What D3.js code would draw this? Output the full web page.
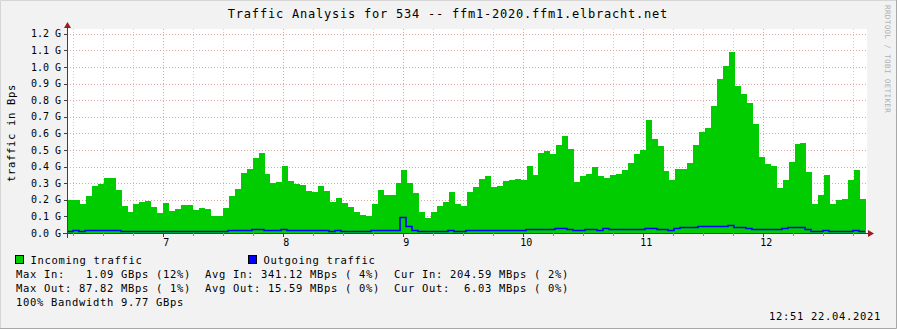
<!DOCTYPE html>
<html>
<head>
<meta charset="utf-8">
<script src="https://cdn.jsdelivr.net/npm/d3@7"></script>
<style>
  body { margin: 0; background: #f2f2f2; }
  svg { display: block; font-family: "DejaVu Sans Mono", monospace; }
  text { white-space: pre; }
</style>
</head>
<body>
<svg id="chart" width="897" height="329"></svg>
<script>
const title = "Traffic Analysis for 534 -- ffm1-2020.ffm1.elbracht.net";
const yTitle = "traffic in Bps";
const watermark = "RRDTOOL / TOBI OETIKER";
const stamp = "12:51 22.04.2021";

// sample times: first (partly hidden) sample and spacing in seconds
const firstSample = new Date(2021, 3, 22, 6, 9, 22);
const stepSeconds = 178.66;
const viewStart = new Date(2021, 3, 22, 6, 11, 51);
const viewEnd = new Date(2021, 3, 22, 12, 51, 51);

// traffic in G (Bps), one value per sample
const incoming = [
  0.214, 0.198, 0.198, 0.174, 0.222, 0.282, 0.294, 0.33, 0.33, 0.258,
  0.162, 0.126, 0.174, 0.186, 0.192, 0.156, 0.12, 0.18, 0.132, 0.144,
  0.168, 0.168, 0.138, 0.15, 0.144, 0.102, 0.102, 0.15, 0.222, 0.264,
  0.36, 0.384, 0.45, 0.48, 0.354, 0.30, 0.306, 0.402, 0.312, 0.294,
  0.288, 0.252, 0.246, 0.282, 0.252, 0.186, 0.21, 0.18, 0.156, 0.126,
  0.108, 0.102, 0.174, 0.258, 0.228, 0.228, 0.30, 0.378, 0.30, 0.24,
  0.126, 0.09, 0.126, 0.162, 0.186, 0.246, 0.174, 0.162, 0.246, 0.276,
  0.324, 0.342, 0.276, 0.282, 0.312, 0.318, 0.324, 0.318, 0.402, 0.348,
  0.48, 0.492, 0.474, 0.528, 0.582, 0.504, 0.306, 0.346, 0.354, 0.396,
  0.342, 0.33, 0.348, 0.354, 0.378, 0.42, 0.474, 0.498, 0.678, 0.564,
  0.522, 0.372, 0.318, 0.384, 0.384, 0.42, 0.528, 0.606, 0.63, 0.768,
  0.928, 1.006, 1.09, 0.886, 0.838, 0.784, 0.658, 0.46, 0.418, 0.406,
  0.274, 0.322, 0.43, 0.538, 0.544, 0.37, 0.172, 0.226, 0.352, 0.172,
  0.196, 0.202, 0.322, 0.382, 0.2046
];
const outgoing = [
  0.004, 0.004, 0.01, 0.004, 0.01, 0.01, 0.01, 0.01, 0.01, 0.01,
  0.004, 0.004, 0.004, 0.004, 0.004, 0.004, 0.004, 0.004, 0.004, 0.004,
  0.004, 0.004, 0.004, 0.004, 0.004, 0.004, 0.004, 0.004, 0.01, 0.01,
  0.01, 0.01, 0.016, 0.016, 0.01, 0.01, 0.01, 0.016, 0.01, 0.01,
  0.01, 0.01, 0.01, 0.01, 0.01, 0.004, 0.01, 0.004, 0.004, 0.004,
  0.004, 0.004, 0.01, 0.01, 0.01, 0.01, 0.01, 0.0878, 0.034, 0.01,
  0.004, 0.004, 0.004, 0.004, 0.004, 0.01, 0.004, 0.004, 0.01, 0.01,
  0.01, 0.01, 0.01, 0.01, 0.01, 0.01, 0.01, 0.01, 0.016, 0.016,
  0.016, 0.016, 0.016, 0.022, 0.022, 0.016, 0.01, 0.01, 0.016, 0.016,
  0.01, 0.022, 0.016, 0.016, 0.016, 0.016, 0.016, 0.016, 0.022, 0.022,
  0.016, 0.016, 0.01, 0.022, 0.028, 0.028, 0.028, 0.034, 0.034, 0.034,
  0.034, 0.034, 0.04, 0.028, 0.028, 0.022, 0.016, 0.016, 0.016, 0.016,
  0.016, 0.022, 0.028, 0.028, 0.028, 0.016, 0.004, 0.004, 0.01, 0.004,
  0.004, 0.004, 0.004, 0.01, 0.006
];

const yTicks = [0, 0.1, 0.2, 0.3, 0.4, 0.5, 0.6, 0.7, 0.8, 0.9, 1.0, 1.1, 1.2];

const legendItems = [
  { label: "Incoming traffic", color: "#00cc00" },
  { label: "Outgoing traffic", color: "#0000ff" }
];
const legendLines = [
  "Max In:   1.09 GBps (12%)  Avg In: 341.12 MBps ( 4%)  Cur In: 204.59 MBps ( 2%)",
  "Max Out: 87.82 MBps ( 1%)  Avg Out: 15.59 MBps ( 0%)  Cur Out:  6.03 MBps ( 0%)",
  "100% Bandwidth 9.77 GBps"
];

const W = 897, H = 329;
const plot = { left: 67, right: 867, top: 29, bottom: 233 };

const svg = d3.select("#chart");

// canvas + frame
svg.append("rect").attr("width", W).attr("height", H).attr("fill", "#f2f2f2");
svg.append("path").attr("d", `M0.5,${H}V0.5H${W}`).attr("fill", "none")
   .attr("stroke", "#d6d6d6").attr("stroke-width", 1);
svg.append("path").attr("d", `M0,${H - 0.5}H${W - 0.5}V0`).attr("fill", "none")
   .attr("stroke", "#a8a8a8").attr("stroke-width", 1);

// plot background
svg.append("rect")
   .attr("x", plot.left).attr("y", plot.top)
   .attr("width", plot.right - plot.left).attr("height", plot.bottom - plot.top)
   .attr("fill", "#ffffff");

const x = d3.scaleTime().domain([viewStart, viewEnd]).range([plot.left, plot.right]);
const y = d3.scaleLinear().domain([0, 1.2]).range([plot.bottom, 33.8]);
const px = t => Math.round(x(t));

const sampleTime = i => new Date(firstSample.getTime() + i * stepSeconds * 1000);
const steps = arr => arr.map((v, i) => ({ t: sampleTime(i), v }))
  .concat([{ t: sampleTime(arr.length), v: arr[arr.length - 1] }]);

// grid
const grid = svg.append("g").attr("shape-rendering", "crispEdges");
const minorTimes = d3.timeMinute.every(15).range(viewStart, viewEnd)
  .filter(d => d.getMinutes() !== 0);
const hourTimes = d3.timeHour.every(1).range(viewStart, viewEnd);

grid.selectAll(".vminor").data(minorTimes).enter().append("line")
  .attr("x1", d => px(d) + 0.5).attr("x2", d => px(d) + 0.5)
  .attr("y1", plot.top).attr("y2", plot.bottom)
  .attr("stroke", "#cdcdcd").attr("stroke-dasharray", "1,2");
grid.selectAll(".hline").data(yTicks.filter(d => d > 0)).enter().append("line")
  .attr("x1", plot.left).attr("x2", plot.right)
  .attr("y1", d => Math.round(y(d)) + 0.5).attr("y2", d => Math.round(y(d)) + 0.5)
  .attr("stroke", "#e0a6a6").attr("stroke-dasharray", "1,2");
grid.selectAll(".vmajor").data(hourTimes).enter().append("line")
  .attr("x1", d => px(d) + 0.5).attr("x2", d => px(d) + 0.5)
  .attr("y1", plot.top).attr("y2", plot.bottom)
  .attr("stroke", "#e0a6a6").attr("stroke-dasharray", "1,2");

// data
svg.append("clipPath").attr("id", "clip").append("rect")
   .attr("x", plot.left).attr("y", 0)
   .attr("width", plot.right - plot.left).attr("height", plot.bottom);
const g = svg.append("g").attr("clip-path", "url(#clip)");

g.append("path")
  .datum(steps(incoming))
  .attr("fill", "#00cc00")
  .attr("d", d3.area().curve(d3.curveStepAfter)
    .x(d => px(d.t)).y0(y(0)).y1(d => Math.round(y(d.v))));

g.append("path")
  .datum(steps(outgoing))
  .attr("fill", "none")
  .attr("stroke", "#0000ff")
  .attr("stroke-width", 1.6)
  .attr("d", d3.line().curve(d3.curveStepAfter)
    .x(d => px(d.t) - 1).y(d => Math.round(y(d.v)) - 0.5));

// axes
const axisColor = "#404040", arrowColor = "#9b1c1c";
const ax = svg.append("g").attr("shape-rendering", "crispEdges");
ax.append("line").attr("x1", plot.left - 4).attr("x2", plot.right + 2)
  .attr("y1", plot.bottom + 0.5).attr("y2", plot.bottom + 0.5).attr("stroke", axisColor);
ax.append("line").attr("x1", plot.left + 0.5).attr("x2", plot.left + 0.5)
  .attr("y1", plot.bottom + 5).attr("y2", plot.top - 1).attr("stroke", axisColor);

// y ticks + labels
ax.selectAll(".ytick").data(yTicks).enter().append("line")
  .attr("x1", plot.left - 3).attr("x2", plot.left)
  .attr("y1", d => Math.round(y(d)) + 0.5).attr("y2", d => Math.round(y(d)) + 0.5)
  .attr("stroke", axisColor);
svg.selectAll(".ylab").data(yTicks).enter().append("text")
  .attr("x", 61).attr("y", d => y(d) + 3.5)
  .attr("text-anchor", "end").attr("font-size", 10).attr("fill", "#000")
  .text(d => d3.format(".1f")(d) + " G");

// x ticks + labels
ax.selectAll(".xminor").data(minorTimes).enter().append("line")
  .attr("x1", d => px(d) + 0.5).attr("x2", d => px(d) + 0.5)
  .attr("y1", plot.bottom).attr("y2", plot.bottom + 3).attr("stroke", "#8c8c8c");
ax.selectAll(".xmajor").data(hourTimes).enter().append("line")
  .attr("x1", d => px(d) + 0.5).attr("x2", d => px(d) + 0.5)
  .attr("y1", plot.bottom).attr("y2", plot.bottom + 4).attr("stroke", arrowColor);
svg.selectAll(".xlab").data(hourTimes).enter().append("text")
  .attr("x", d => x(d) + 3).attr("y", 246)
  .attr("text-anchor", "middle").attr("font-size", 10).attr("fill", "#000")
  .text(d3.timeFormat("%-H"));

// arrows
svg.append("path")
  .attr("d", `M${plot.right + 1},${plot.bottom - 3}l6,3.5l-6,3.5z`)
  .attr("fill", arrowColor);
svg.append("path")
  .attr("d", `M${plot.left - 3},${plot.top - 1}l3.5,-6l3.5,6z`)
  .attr("fill", arrowColor);

// titles
svg.append("text").attr("x", 448).attr("y", 17.5)
  .attr("text-anchor", "middle").attr("font-size", 12).attr("letter-spacing", 0.78)
  .attr("fill", "#000").text(title);
svg.append("text")
  .attr("transform", `translate(15,${(plot.top + plot.bottom) / 2 + 2}) rotate(-90)`)
  .attr("text-anchor", "middle").attr("font-size", 10.5).attr("letter-spacing", 0.68)
  .attr("fill", "#000").text(yTitle);
svg.append("text")
  .attr("transform", "translate(885,5) rotate(90)")
  .attr("font-size", 7.5).attr("letter-spacing", 0.4)
  .attr("fill", "#b0b0b0").text(watermark);

// legend
const leg = svg.append("g").attr("font-size", 10.5).attr("letter-spacing", 0.68);
const legX = [15, 248];
legendItems.forEach((d, i) => {
  leg.append("rect")
    .attr("x", legX[i] + 0.5).attr("y", 255.5).attr("width", 8).attr("height", 8)
    .attr("fill", d.color).attr("stroke", "#000").attr("shape-rendering", "crispEdges");
  leg.append("text").attr("x", legX[i] + 15.5).attr("y", 263.5).attr("fill", "#000").text(d.label);
});
legendLines.forEach((line, i) => {
  leg.append("text").attr("x", 16).attr("y", 277.5 + i * 14).attr("fill", "#000").text(line);
});
leg.append("text").attr("x", 881).attr("y", 319.5).attr("text-anchor", "end")
  .attr("fill", "#000").text(stamp);
</script>
</body>
</html>
